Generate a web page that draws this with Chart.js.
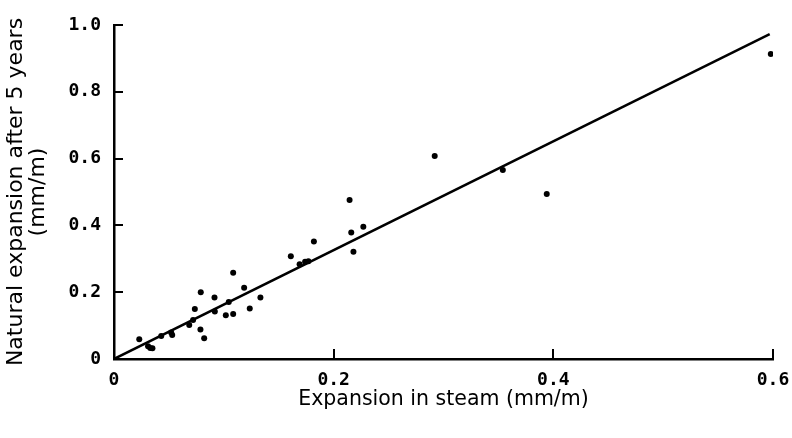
<!DOCTYPE html>
<html>
<head>
<meta charset="utf-8">
<script src="https://cdn.jsdelivr.net/npm/chart.js@4.4.1/dist/chart.umd.min.js"></script>
<style>
  html, body { margin: 0; padding: 0; background: #fff; }
  #wrap { width: 792px; height: 438px; position: relative; }
</style>
</head>
<body>
<div id="wrap"><canvas id="c" width="792" height="438"></canvas></div>
<script>
// Observed data: expansion in steam (x) vs natural expansion after 5 years (y), mm/m
const steamExpansion = [0.023, 0.031, 0.033, 0.035, 0.043, 0.052, 0.053, 0.0685, 0.072, 0.0736,
  0.0787, 0.0821, 0.079, 0.0915, 0.0918, 0.1018, 0.1045, 0.1085, 0.1085, 0.1185,
  0.1236, 0.1333, 0.161, 0.169, 0.174, 0.177, 0.182, 0.2145, 0.216, 0.218,
  0.227, 0.292, 0.354, 0.394, 0.598];
const naturalExpansion = [0.059, 0.038, 0.033, 0.032, 0.069, 0.079, 0.072, 0.102, 0.117, 0.150,
  0.088, 0.062, 0.200, 0.184, 0.142, 0.131, 0.171, 0.135, 0.258, 0.213,
  0.151, 0.184, 0.308, 0.284, 0.291, 0.293, 0.352, 0.476, 0.379, 0.321,
  0.396, 0.608, 0.566, 0.494, 0.913];
// Fitted straight line through the origin
const fitLineX = [0, 0.597];
const fitLineY = [0, 0.973];
// Tick labels
const xTickValues = [0, 0.2, 0.4, 0.6];
const xTickLabels = ["0", "0.2", "0.4", "0.6"];
const yTickValues = [0, 0.2, 0.4, 0.6, 0.8, 1.0];
const yTickLabels = ["0", "0.2", "0.4", "0.6", "0.8", "1.0"];

const points = steamExpansion.map((x, i) => ({ x: x, y: naturalExpansion[i] }));
const fitPoints = fitLineX.map((x, i) => ({ x: x, y: fitLineY[i] }));

const tickFont = { family: "DejaVu Sans Mono", size: 18, weight: "bold" };

function labelFor(values, labels, v) {
  for (let i = 0; i < values.length; i++) {
    if (Math.abs(values[i] - v) < 1e-6) return labels[i];
  }
  return "";
}

const innerTicks = {
  id: "innerTicks",
  afterDraw(chart) {
    const ctx = chart.ctx;
    const xs = chart.scales.x, ys = chart.scales.y;
    ctx.save();
    ctx.strokeStyle = "#000";
    ctx.lineWidth = 2;
    xTickValues.forEach(v => {
      if (v === 0) return;
      const px = Math.round(xs.getPixelForValue(v));
      ctx.beginPath();
      ctx.moveTo(px, ys.bottom);
      ctx.lineTo(px, ys.bottom - 10);
      ctx.stroke();
    });
    yTickValues.forEach(v => {
      if (v === 0) return;
      const py = Math.round(ys.getPixelForValue(v));
      ctx.beginPath();
      ctx.moveTo(xs.left, py);
      ctx.lineTo(xs.left + 9, py);
      ctx.stroke();
    });
    ctx.restore();
  }
};

new Chart(document.getElementById("c"), {
  data: {
    datasets: [
      {
        type: "scatter",
        data: points,
        backgroundColor: "#000",
        borderColor: "#000",
        pointRadius: 3,
        pointHoverRadius: 3,
        borderWidth: 0
      },
      {
        type: "line",
        data: fitPoints,
        borderColor: "#000",
        borderWidth: 2.5,
        pointRadius: 0,
        fill: false,
        tension: 0
      }
    ]
  },
  options: {
    responsive: false,
    animation: false,
    events: [],
    layout: { padding: { top: 25, right: 19, left: 0, bottom: 0 } },
    plugins: { legend: { display: false }, tooltip: { enabled: false } },
    scales: {
      x: {
        type: "linear",
        min: 0,
        max: 0.6,
        afterBuildTicks(scale) { scale.ticks = xTickValues.map(v => ({ value: v })); },
        afterFit(scale) { scale.height = 79; scale.paddingRight = 0; scale.paddingLeft = 0; },
        grid: { display: false, drawTicks: false },
        border: { display: true, color: "#000", width: 2.5 },
        ticks: {
          color: "#000",
          font: tickFont,
          padding: 11,
          maxRotation: 0,
          callback: v => labelFor(xTickValues, xTickLabels, v)
        },
        title: {
          display: true,
          text: "Expansion in steam (mm/m)",
          color: "#000",
          font: { family: "DejaVu Sans", size: 20.5, lineHeight: 1.2 },
          padding: { top: 0, bottom: 26 }
        }
      },
      y: {
        type: "linear",
        min: 0,
        max: 1.0,
        afterBuildTicks(scale) { scale.ticks = yTickValues.map(v => ({ value: v })); },
        afterFit(scale) { scale.width = 114; scale.paddingTop = 0; scale.paddingBottom = 0; },
        grid: { display: false, drawTicks: false },
        border: { display: true, color: "#000", width: 2.5 },
        ticks: {
          color: "#000",
          font: tickFont,
          padding: 13,
          callback: v => labelFor(yTickValues, yTickLabels, v)
        },
        title: {
          display: true,
          text: ["Natural expansion after 5 years", "(mm/m)"],
          color: "#000",
          font: { family: "DejaVu Sans", size: 22, lineHeight: 0.97 },
          padding: { top: 6, bottom: 0 }
        }
      }
    }
  },
  plugins: [innerTicks]
});
</script>
</body>
</html>
